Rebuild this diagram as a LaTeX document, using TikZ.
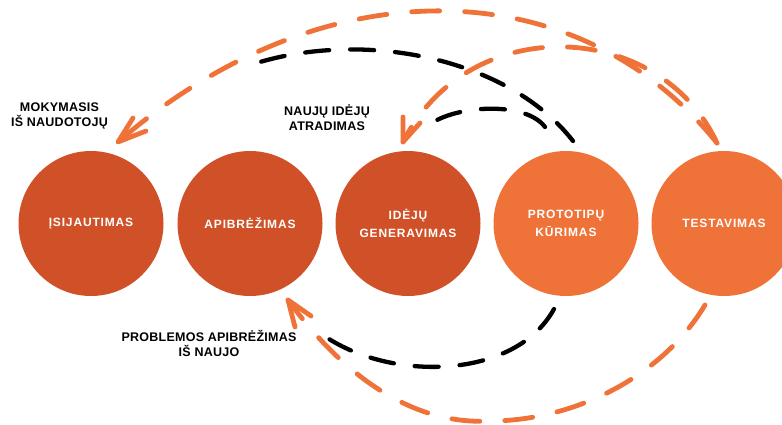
\documentclass[tikz,border=0pt]{standalone}
\usepackage{fontspec}
\setmainfont{Liberation Sans}
\newfontfamily\circfont[LetterSpace=7]{Liberation Sans}
\newfontfamily\labfont[LetterSpace=2]{Liberation Sans}
\usetikzlibrary{calc}
\definecolor{darkor}{RGB}{208,81,40}
\definecolor{lightor}{RGB}{239,115,56}
\begin{document}
\begin{tikzpicture}[x=1pt,y=-1pt,
  stage/.style={circle,minimum size=145pt,inner sep=0pt,text=white,align=center,
    font=\circfont\bfseries\fontsize{12}{18}\selectfont},
  lab/.style={align=center,text=black,font=\labfont\bfseries\fontsize{12.5}{15}\selectfont},
  odash/.style={draw=lightor,line width=4.8pt,line cap=round,dash pattern=on 28pt off 25pt},
  kdash/.style={draw=black,line width=4.3pt,line cap=round,dash pattern=on 24pt off 21pt},
  obarb/.style={draw=lightor,line width=4.8pt,line cap=round,line join=round}]
\useasboundingbox (0,0) rectangle (782,424);
\clip (0,0) rectangle (782,424);
\fill[white] (0,0) rectangle (782,424);

% stages
\node[stage,fill=darkor]  (c1) at (91,223.5)  {ĮSIJAUTIMAS};
\node[stage,fill=darkor]  (c2) at (250,223.5) {APIBRĖŽIMAS};
\node[stage,fill=darkor]  (c3) at (408,223.5) {IDĖJŲ\\GENERAVIMAS};
\node[stage,fill=lightor] (c4) at (566,223.5) {PROTOTIPŲ\\KŪRIMAS};
\node[stage,fill=lightor] (c5) at (724,223.5) {TESTAVIMAS};

% labels
\node[lab] (l1) at (59.5,115.5) {MOKYMASIS\\IŠ NAUDOTOJŲ};
\node[lab] (l2) at (327,117.5) {NAUJŲ IDĖJŲ\\ATRADIMAS};
\node[lab] (l3) at (209,343.5) {PROBLEMOS APIBRĖŽIMAS\\IŠ NAUJO};

% connector end points
\coordinate (s1) at (717,143);
\coordinate (e1) at (118,142);
\coordinate (e2) at (403,142);
\coordinate (k1s) at (573,141);
\coordinate (k1e) at (260,62);
\coordinate (k2s) at (545,127);
\coordinate (k2e) at (425,128);
\coordinate (k3s) at (554,309);
\coordinate (k3e) at (323,335);
\coordinate (s3) at (705,305);
\coordinate (m3) at (490,421);
\coordinate (e3) at (288,300);
\coordinate (b1a) at (133,118);
\coordinate (b1b) at (146,131);
\coordinate (b2a) at (403,117);
\coordinate (b2b) at (420,123);
\coordinate (b3a) at (311,316);
\coordinate (b3b) at (295,327);

% black dashed arcs
\draw[kdash] (k1s) .. controls (510,60) and (370,30) .. (k1e);
\draw[kdash] (k2s) .. controls (525,100) and (450,105) .. (k2e);
\draw[kdash] (k3s) .. controls (515,380) and (390,382) .. (k3e);

% orange dashed arrows
\draw[odash] (s1) .. controls (575,-33) and (320,-33) .. (e1);
\draw[obarb] (b1a) -- (e1) -- (b1b);
\draw[odash] (s1) .. controls (660,20) and (470,10) .. (e2);
\draw[obarb] (b2a) -- (e2) -- (b2b);
\draw[odash] (s3) .. controls (660,380) and (570,421) .. (m3)
             .. controls (420,425) and (350,385) .. (e3);
\draw[obarb] (b3a) -- (e3) -- (b3b);
\end{tikzpicture}
\end{document}
